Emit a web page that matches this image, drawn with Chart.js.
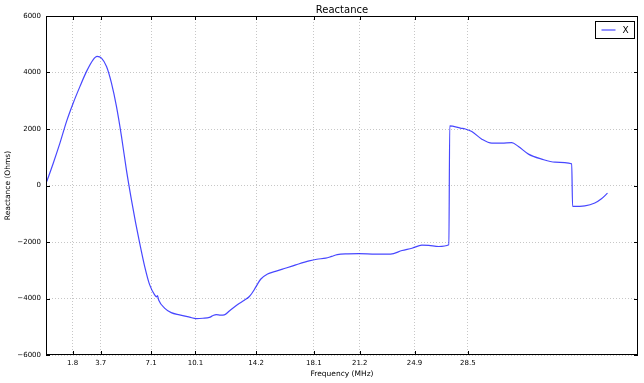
<!DOCTYPE html>
<html>
<head>
<meta charset="utf-8">
<script src="https://cdn.jsdelivr.net/npm/chart.js@4"></script>
<style>
    body { margin: 0; background: #fff; }
    #wrap { width: 644px; height: 383px; }
</style>
</head>
<body>
<div id="wrap"><canvas id="myChart" width="644" height="383"></canvas></div>
<script>
//frequency points in MHz
const freqs = [
    0.05, 0.49, 0.94, 1.39, 1.84, 2.29, 2.74, 3.18, 3.45, 3.75,
    4.09, 4.42, 4.76, 5.10, 5.43, 5.77, 6.06, 6.33, 6.67, 7.00,
    7.34, 7.48, 7.53, 7.62, 8.01, 8.46, 9.02, 9.70, 10.15, 10.60,
    11.04, 11.30, 11.50, 11.80, 12.05, 12.39, 12.95, 13.40, 13.74, 14.07,
    14.30, 14.52, 14.97, 15.50, 15.98, 16.88, 17.78, 18.30, 18.90, 19.30,
    19.68, 20.40, 21.14, 22.27, 23.28, 24.06, 24.73, 25.40, 25.86, 26.53,
    27.22, 27.28, 28.00, 28.33, 28.77, 29.45, 30.12, 30.80, 31.47, 31.92,
    32.60, 33.49, 34.39, 35.52, 35.58, 36.41, 37.08, 37.53, 37.94
];

//reactance X in ohms
const reactance = [
    140, 790, 1500, 2270, 2920, 3500, 4040, 4450, 4570, 4510,
    4210, 3630, 2800, 1740, 560, -500, -1330, -2040, -2870, -3510,
    -3870, -3940, -3900, -4060, -4340, -4500, -4580, -4660, -4710, -4700,
    -4670, -4600, -4570, -4590, -4580, -4440, -4210, -4060, -3930, -3690,
    -3480, -3310, -3130, -3040, -2960, -2810, -2670, -2610, -2570, -2510,
    -2450, -2420, -2410, -2430, -2430, -2300, -2220, -2110, -2120, -2160,
    -2100, 2110, 2030, 2000, 1910, 1640, 1500, 1500, 1520, 1380,
    1110, 935, 830, 770, -740, -720, -620, -470, -270
];

//ham band tick labels on the x axis
const xTicks = [1.8, 3.7, 7.1, 10.1, 14.2, 18.1, 21.2, 24.9, 28.5];
const yTicks = [-6000, -4000, -2000, 0, 2000, 4000, 6000];

const seriesLabel = 'X';
const lineColor = 'rgba(0, 0, 255, 0.72)';

Chart.defaults.font.family = 'DejaVu Sans';
Chart.defaults.color = '#000';

//draws the box round the plot, the inward ticks and the legend
const frameAndLegend = {
    id: 'frameAndLegend',
    afterDraw(chart) {
        const ctx = chart.ctx;
        const a = chart.chartArea;
        const xs = chart.scales.x;
        const ys = chart.scales.y;

        ctx.save();
        ctx.strokeStyle = '#000';
        ctx.lineWidth = 1;

        //inward tick marks on all four sides
        ctx.beginPath();
        xTicks.forEach(v => {
            const px = Math.round(xs.getPixelForValue(v)) + 0.5;
            ctx.moveTo(px, a.bottom); ctx.lineTo(px, a.bottom - 4);
            ctx.moveTo(px, a.top); ctx.lineTo(px, a.top + 4);
        });
        yTicks.forEach(v => {
            const py = Math.round(ys.getPixelForValue(v)) + 0.5;
            ctx.moveTo(a.left, py); ctx.lineTo(a.left + 4, py);
            ctx.moveTo(a.right, py); ctx.lineTo(a.right - 4, py);
        });
        ctx.stroke();

        //frame
        ctx.strokeRect(a.left + 0.5, a.top + 0.5, a.right - a.left - 1, a.bottom - a.top - 1);

        //legend box in the upper right
        const bw = 39, bh = 17;
        const bx = Math.round(a.right - 4 - bw) + 0.5;
        const by = Math.round(a.top + 5) + 0.5;
        ctx.fillStyle = '#fff';
        ctx.fillRect(bx, by, bw, bh);
        ctx.strokeRect(bx, by, bw, bh);

        const ds = chart.data.datasets[0];
        ctx.strokeStyle = ds.borderColor;
        ctx.lineWidth = 1.2;
        ctx.beginPath();
        ctx.moveTo(bx + 6, by + bh / 2);
        ctx.lineTo(bx + 20, by + bh / 2);
        ctx.stroke();

        ctx.fillStyle = '#000';
        ctx.font = '9px "DejaVu Sans"';
        ctx.textBaseline = 'middle';
        ctx.textAlign = 'left';
        ctx.fillText(ds.label, bx + 27, by + bh / 2 + 0.5);
        ctx.restore();
    }
};

const data = {
    datasets: [{
        label: seriesLabel,
        data: freqs.map((f, i) => ({ x: f, y: reactance[i] })),
        borderColor: lineColor,
        backgroundColor: lineColor,
        borderWidth: 1.2,
        pointRadius: 0,
        cubicInterpolationMode: 'monotone',
        fill: false
    }]
};

const gridOpts = {
    color: 'rgba(0, 0, 0, 0.28)',
    lineWidth: 0.8,
    drawTicks: false
};

const config = {
    type: 'line',
    data,
    options: {
        responsive: false,
        animation: false,
        devicePixelRatio: 1,
        layout: { padding: { left: 0, right: 6, top: 0, bottom: 0 } },
        plugins: {
            legend: { display: false },
            tooltip: { enabled: false },
            title: {
                display: true,
                text: 'Reactance',
                fullSize: false,
                font: { size: 10, weight: 'normal' },
                padding: { top: 4, bottom: 0 }
            }
        },
        scales: {
            x: {
                type: 'linear',
                min: 0,
                max: 40,
                afterBuildTicks: (axis) => { axis.ticks = xTicks.map(v => ({ value: v })); },
                afterFit: (axis) => { axis.height = 28; },
                grid: gridOpts,
                border: { display: false, dash: [1, 2] },
                ticks: {
                    autoSkip: false,
                    maxRotation: 0,
                    padding: 4,
                    font: { size: 7 },
                    callback: (v) => Number(v).toFixed(1)
                },
                title: {
                    display: true,
                    text: 'Frequency (MHz)',
                    font: { size: 7.5 },
                    padding: { top: 0, bottom: 4 }
                }
            },
            y: {
                min: -6000,
                max: 6000,
                afterBuildTicks: (axis) => { axis.ticks = yTicks.map(v => ({ value: v })); },
                afterFit: (axis) => { axis.width = 46; },
                grid: gridOpts,
                border: { display: false, dash: [1, 2] },
                ticks: {
                    padding: 5,
                    font: { size: 7 },
                    callback: (v) => (v < 0 ? '\u2212' + Math.abs(v) : String(v))
                },
                title: {
                    display: true,
                    text: 'Reactance (Ohms)',
                    font: { size: 7.5 },
                    padding: { top: 4, bottom: 0 }
                }
            }
        }
    },
    plugins: [frameAndLegend]
};

//build chart
const reactanceChart = new Chart(document.getElementById('myChart'), config);
</script>
</body>
</html>
